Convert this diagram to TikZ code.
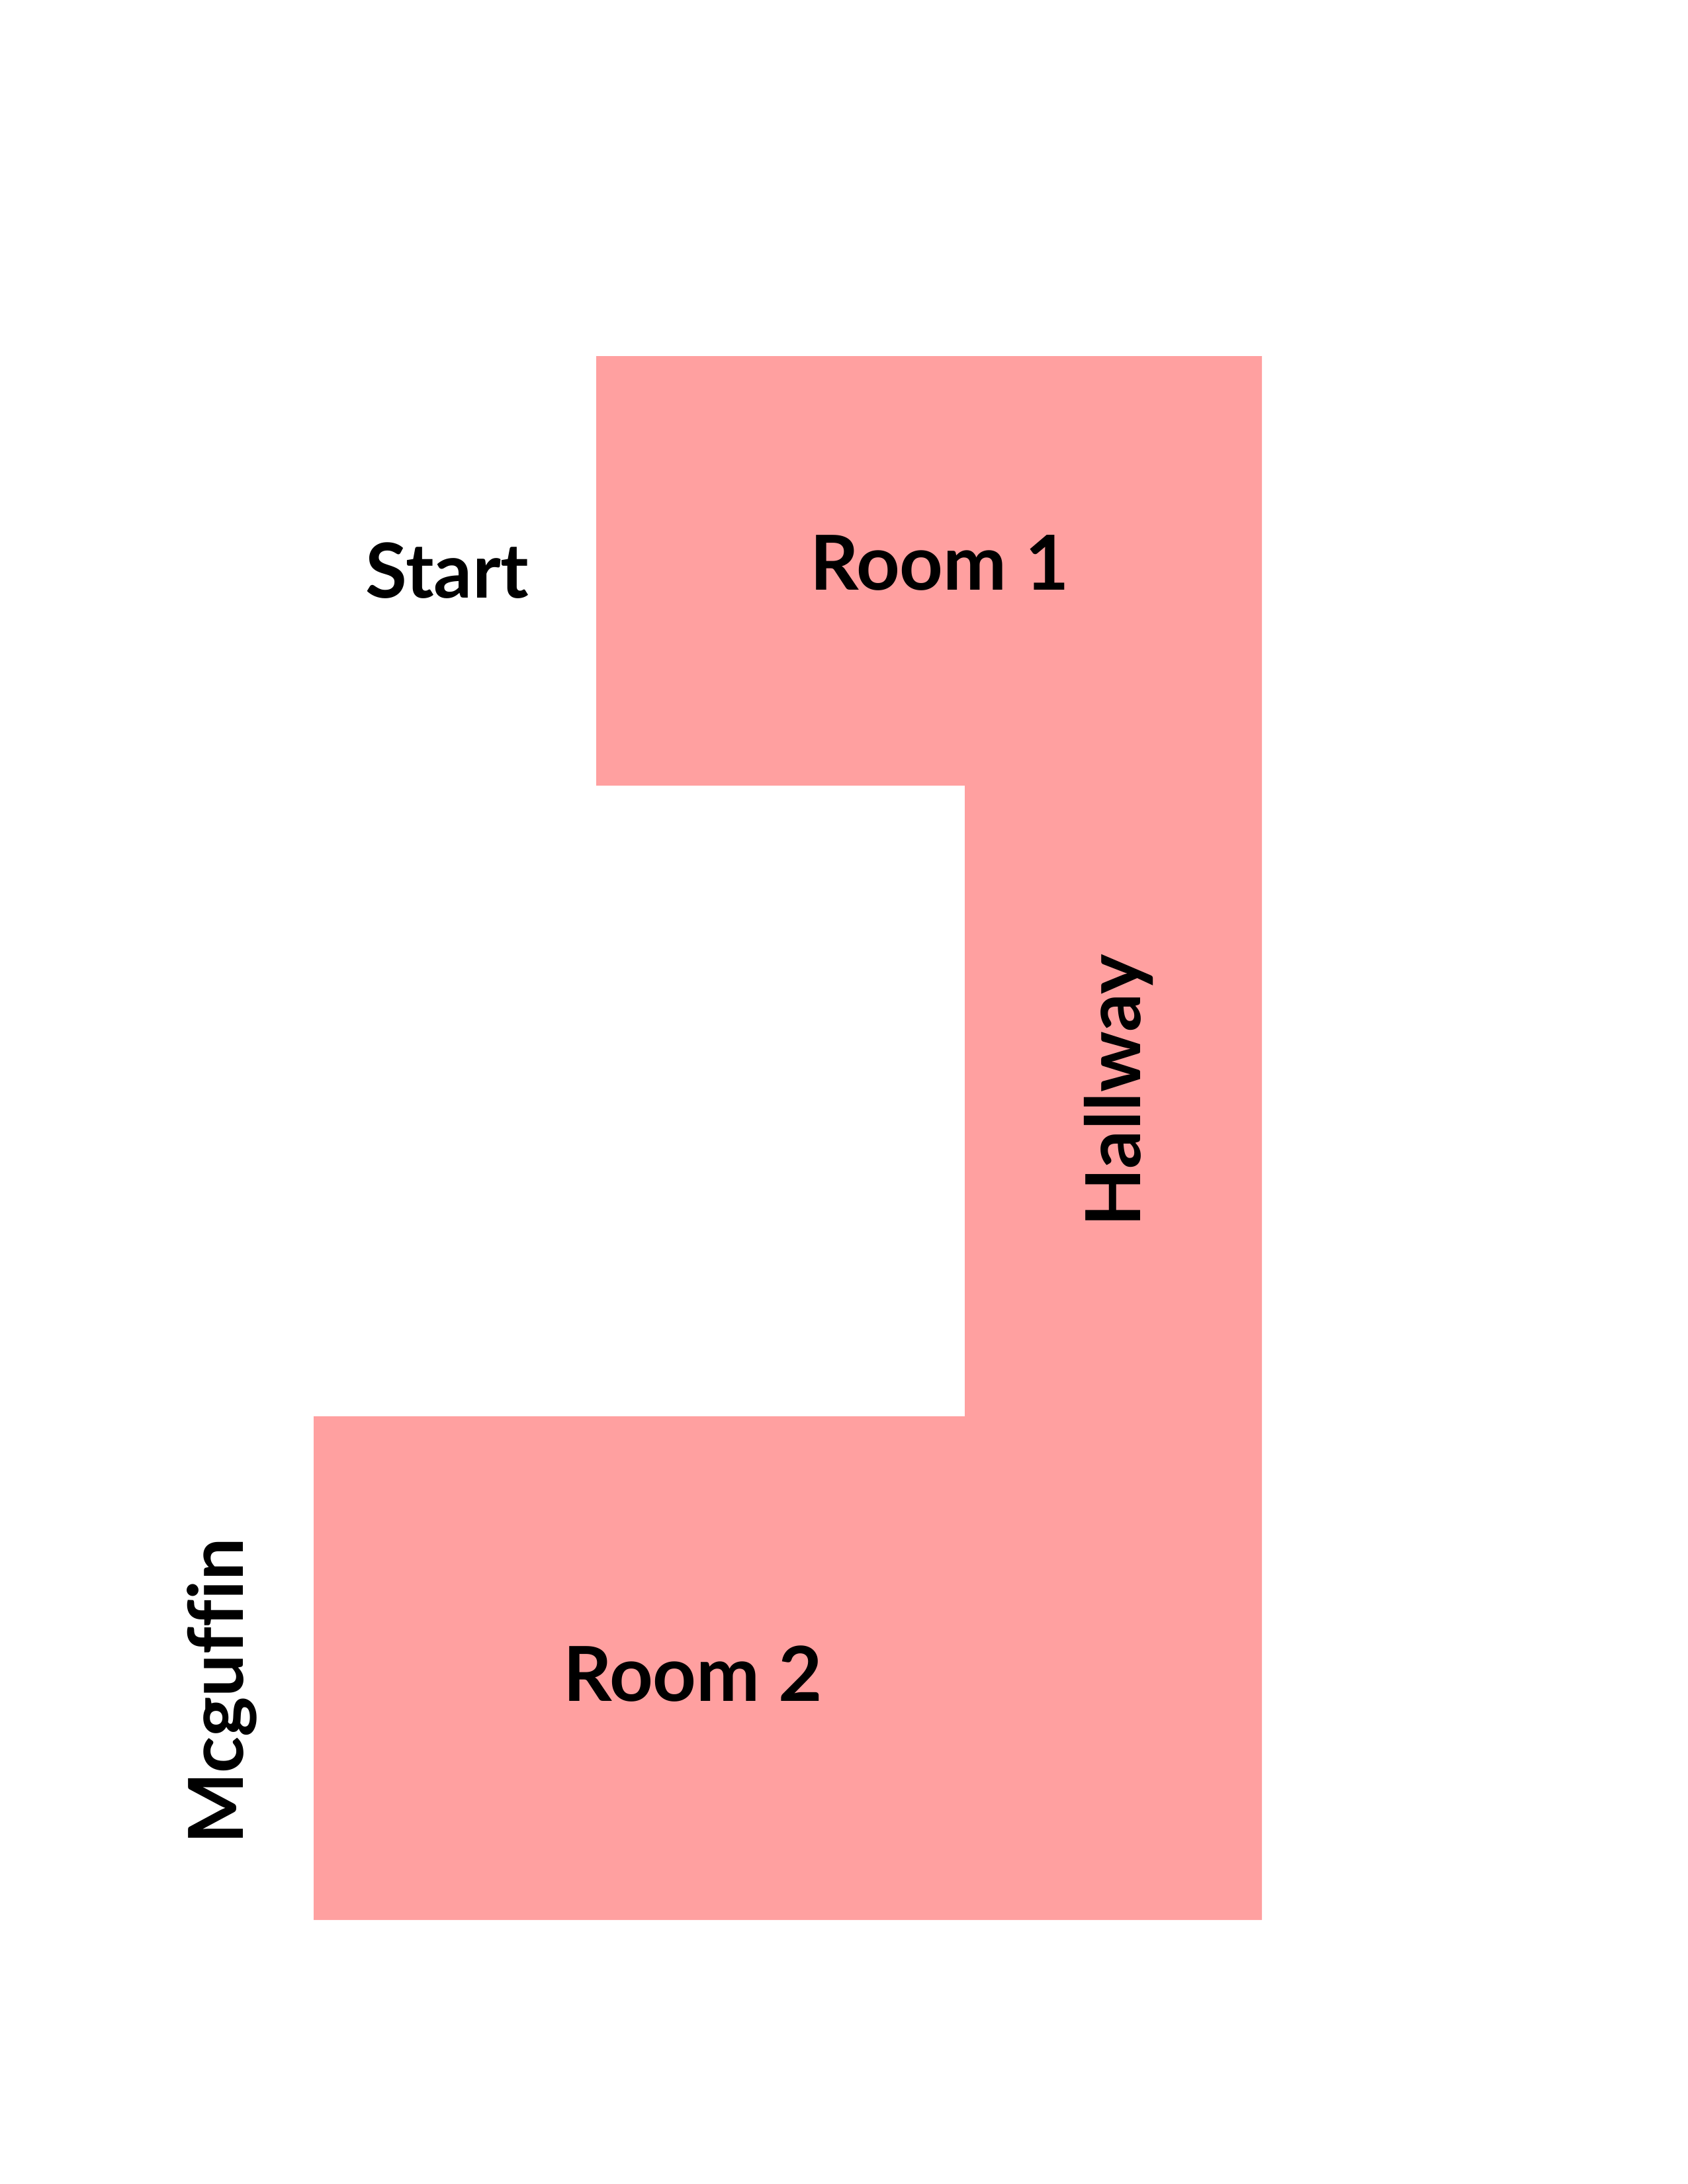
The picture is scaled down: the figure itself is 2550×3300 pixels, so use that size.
\documentclass[tikz,border=0pt]{standalone}
\usepackage{fontspec}
\setmainfont{Lato}[Ligatures=NoCommon]
\definecolor{roompink}{RGB}{255,160,160}

\begin{document}
\begin{tikzpicture}[x=0.24pt,y=-0.24pt,every node/.style={font=\bfseries\fontsize{27.5}{33}\selectfont,anchor=base,inner sep=0pt},
  room/.style={fill=roompink}]
\useasboundingbox (0,0) rectangle (2550,3300);
% floor plan
\fill[roompink] (901,538) -- (1907,538) -- (1907,2901) -- (474,2901) -- (474,2140)
  -- (1458,2140) -- (1458,1187) -- (901,1187) -- cycle;

\node (start)    at (676,903)  {Start};
\node (room1)    at (1420,891) {Room 1};
\node (hallway)  [rotate=90] at (1723,1648) {Hallway};
\node (room2)    at (1047,2570) {Room 2};
\node (mcguffin) [rotate=90] at (367,2555) {Mcguffin};
\end{tikzpicture}
\end{document}
